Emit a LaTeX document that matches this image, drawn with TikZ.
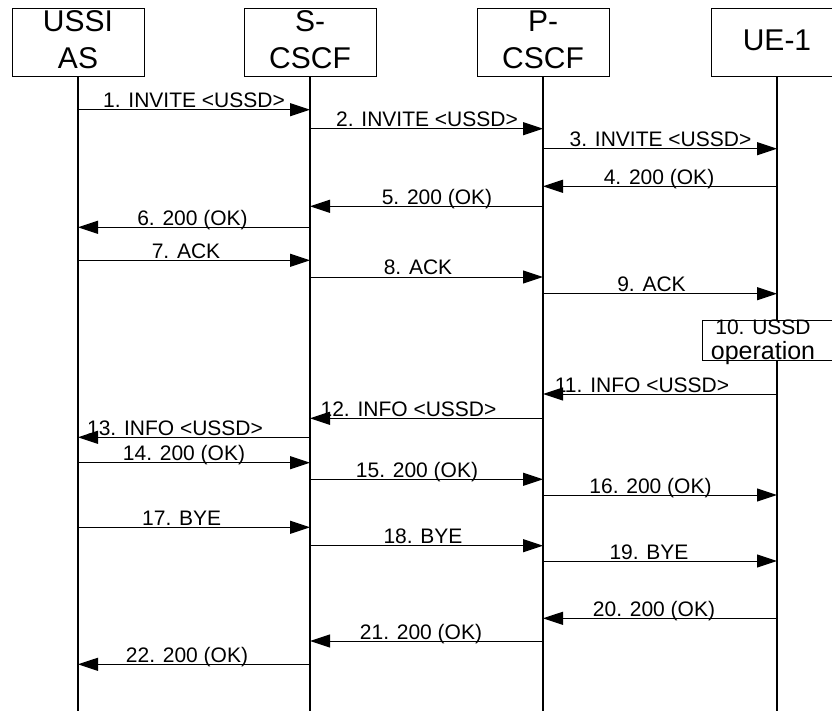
\documentclass[tikz,border=0pt]{standalone}
\usepackage{fontspec}
\setmainfont{Liberation Sans}
\usetikzlibrary{arrows.meta}

\begin{document}
\begin{tikzpicture}[x=1pt,y=-1pt,
  entity/.style={draw, line width=1pt, minimum width=132pt, minimum height=68pt,
    inner sep=0pt, align=center, font=\fontsize{30}{37}\selectfont,
    execute at end node={\rule[-6pt]{0pt}{0pt}}},
  lifeline/.style={line width=2pt},
  msg/.style={line width=1pt, -{Triangle[length=20pt,width=13pt]}},
  msglabel/.style={anchor=base, inner sep=0pt, font=\fontsize{21}{25}\selectfont},
  opbox/.style={draw, fill=white, line width=1pt, minimum width=150pt,
    minimum height=40pt, inner sep=0pt}]
\useasboundingbox (0,0) rectangle (832,711);
\clip (0,0) rectangle (832,711);

\node[entity] (as) at (78,43) {USSI\\AS};
\node[entity] (scscf) at (310,43) {S-\\CSCF};
\node[entity] (pcscf) at (543,43) {P-\\CSCF};
\node[entity] (ue) at (777,43) {UE-1};

\foreach \e in {as,scscf,pcscf,ue}
\draw[lifeline] (\e.south) -- (\e.south |- 0,711);

\node[opbox] (op) at (777,340) {};
\node[inner sep=0pt, align=center, font=\fontsize{21}{25}\selectfont] (optext) at (763,342)
  {10. USSD\\{\fontsize{25}{25}\selectfont operation}};

\foreach \n/\a/\b/\y/\lx/\t in {
  1/as/scscf/109.7/194/1. INVITE <USSD>,
  2/scscf/pcscf/128.7/427/2. INVITE <USSD>,
  3/pcscf/ue/148.7/660.5/3. INVITE <USSD>,
  4/ue/pcscf/186.3/659/4. 200 (OK),
  5/pcscf/scscf/206.3/437/5. 200 (OK),
  6/scscf/as/227.3/192.5/6. 200 (OK),
  7/as/scscf/260.3/186/7. ACK,
  8/scscf/pcscf/277/418/8. ACK,
  9/pcscf/ue/293.7/651.5/9. ACK,
  11/ue/pcscf/394/642/11. INFO <USSD>,
  12/pcscf/scscf/418.3/408.5/12. INFO <USSD>,
  13/scscf/as/437.3/175/13. INFO <USSD>,
  14/as/scscf/462.7/184/14. 200 (OK),
  15/scscf/pcscf/479.3/417/15. 200 (OK),
  16/pcscf/ue/495/650.5/16. 200 (OK),
  17/as/scscf/527.3/181.7/17. BYE,
  18/scscf/pcscf/545.7/423/18. BYE,
  19/pcscf/ue/561/649/19. BYE,
  20/ue/pcscf/618.3/654/20. 200 (OK),
  21/pcscf/scscf/641/421/21. 200 (OK),
  22/scscf/as/664.3/187/22. 200 (OK)}
{
\draw[msg] (\a.south |- 0,\y) -- (\b.south |- 0,\y);
\node[msglabel] (l\n) at (\lx,\y-2) {\t};
}
\end{tikzpicture}
\end{document}
